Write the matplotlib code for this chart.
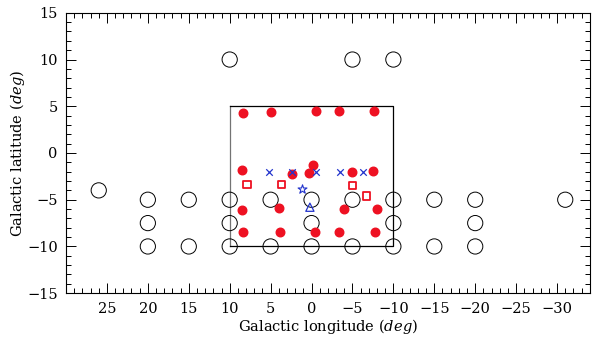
import numpy as np
import matplotlib.pyplot as plt
from matplotlib.ticker import MultipleLocator

plt.rcParams['font.family'] = ['DejaVu Serif']
plt.rcParams['mathtext.fontset'] = 'dejavuserif'

# open circles (fields)
field_l = [26, 20, 20, 20, 15, 15, 10, 10, 10, 10, 5, 5, 0, 0, 0,
           -5, -5, -5, -10, -10, -10, -10, -15, -15, -20, -20, -20, -31]
field_b = [-4, -5, -7.5, -10, -5, -10, 10, -5, -7.5, -10, -5, -10, -5, -7.5, -10,
           10, -5, -10, 10, -5, -7.5, -10, -5, -10, -5, -7.5, -10, -5]

# red filled circles
red_l = [8.4, 5.0, -0.6, -3.4, -7.6,
         8.5, 2.4, -0.2, 0.3, -5.0, -7.5,
         8.5, 4.0, -4.0, -8.0,
         8.4, 3.9, -0.4, -3.3, -7.7]
red_b = [4.3, 4.4, 4.5, 4.5, 4.5,
         -1.8, -2.2, -1.3, -2.1, -2.0, -1.9,
         -6.1, -5.9, -5.95, -5.95,
         -8.45, -8.45, -8.45, -8.5, -8.45]

# red open squares
sq_l = [7.9, 3.7, -5.0, -6.7]
sq_b = [-3.35, -3.35, -3.5, -4.6]

# blue crosses
x_l = [5.2, 2.4, -0.6, -3.5, -6.3]
x_b = [-2.0, -2.0, -2.0, -2.0, -2.0]

star_l, star_b = [1.1], [-3.9]
tri_l, tri_b = [0.2], [-5.8]

box_l = [10, -10]
box_b = [-10, 5]

fig, ax = plt.subplots(figsize=(6, 3.37), dpi=100)
fig.subplots_adjust(left=0.11, right=0.983, top=0.962, bottom=0.13)

red = '#ee1122'
blue = '#2233cc'

ax.plot([box_l[0], box_l[0]], box_b, color='0.45', lw=0.9)
ax.plot([box_l[0], box_l[1], box_l[1], box_l[0]],
        [box_b[1], box_b[1], box_b[0], box_b[0]], color='black', lw=0.9)

ax.scatter(field_l, field_b, s=120, facecolors='none', edgecolors='black', linewidths=0.7, zorder=3)
ax.scatter(red_l, red_b, s=38, color=red, zorder=4)
ax.scatter(sq_l, sq_b, s=28, marker='s', facecolors='none', edgecolors=red, linewidths=1.3, zorder=4)
ax.scatter(x_l, x_b, s=22, marker='x', color=blue, linewidths=0.9, zorder=5)
ax.scatter(star_l, star_b, s=45, marker='*', facecolors='none', edgecolors=blue, linewidths=0.8, zorder=5)
ax.scatter(tri_l, tri_b, s=35, marker='^', facecolors='none', edgecolors=blue, linewidths=0.9, zorder=5)

ax.set_xlim(30, -34)
ax.set_ylim(-15, 15)
ax.xaxis.set_major_locator(MultipleLocator(5))
ax.xaxis.set_minor_locator(MultipleLocator(1))
ax.yaxis.set_major_locator(MultipleLocator(5))
ax.yaxis.set_minor_locator(MultipleLocator(1))
ax.set_xticks([25, 20, 15, 10, 5, 0, -5, -10, -15, -20, -25, -30])
ax.tick_params(which='both', direction='in', top=True, right=True, labelsize=10.5, width=0.7)
ax.tick_params(which='major', length=7, pad=6)
ax.tick_params(which='minor', length=3.5)
for s in ax.spines.values():
    s.set_linewidth(0.8)

ax.set_xlabel('Galactic longitude ($deg$)', fontsize=10.5, labelpad=1)
ax.set_ylabel('Galactic latitude ($deg$)', fontsize=10.5)
ax.yaxis.set_label_coords(-0.075, 0.5)

fig.savefig('out.png', dpi=100)
